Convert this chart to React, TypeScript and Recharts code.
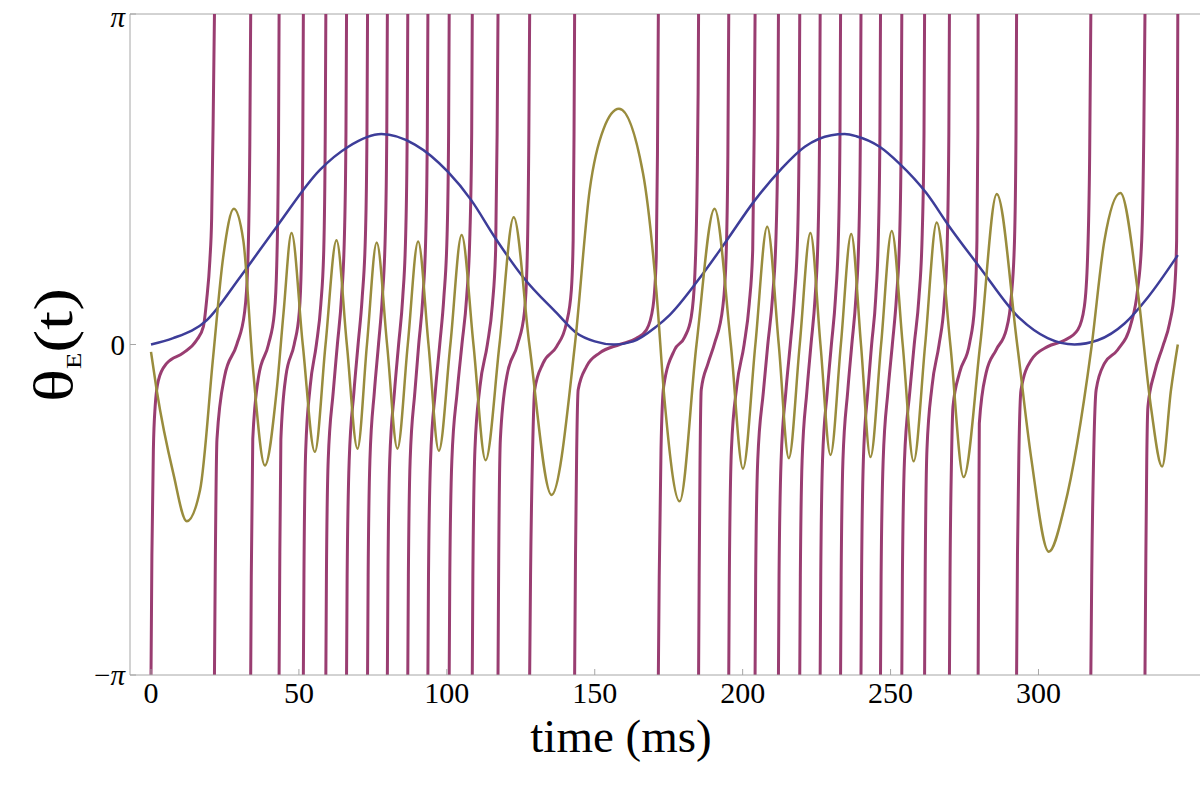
import React from 'react';
import { LineChart, Line, XAxis, YAxis, ReferenceLine, Label } from 'recharts';

const PI = Math.PI;

// axis ticks
const timeTicks = [0, 50, 100, 150, 200, 250, 300];
const phaseTicks = [-PI, 0, PI];
const phaseTickLabels = ['−π', '0', 'π'];

// slow drive (blue), [time ms, value]
const drive: [number, number][] = [
  [0, 0], [7.5, 0.06], [18.8, 0.23], [30.1, 0.64], [42.5, 1.12], [57.1, 1.66], [66.7, 1.88],
  [77.9, 2.0], [89.2, 1.9], [100.4, 1.64], [108.3, 1.37], [116.2, 1.02], [125.8, 0.64],
  [137.1, 0.3], [143.8, 0.11], [150, 0.03], [156.5, 0], [163, 0.03], [170.8, 0.17],
  [175.3, 0.28], [184.9, 0.61], [193.9, 0.96], [204.1, 1.37], [213.1, 1.67], [221, 1.88],
  [230, 1.99], [234.5, 2.0], [238.4, 1.98], [246.3, 1.88], [253, 1.72], [262.1, 1.44],
  [269.9, 1.12], [280, 0.74], [293.6, 0.25], [303.1, 0.06], [312.2, 0], [320, 0.04],
  [329.1, 0.2], [337, 0.45], [347.1, 0.85],
];

// oscillating trace (olive)
const oscillator: [number, number][] = [
  [0, -0.07], [1.9, -0.43], [7.5, -1.22], [12.1, -1.68], [16.6, -1.38], [21.0, -0.12],
  [24.4, 0.83], [28.0, 1.29], [31.2, 0.99], [34.6, -0.27], [38.5, -1.15], [42.5, -0.43],
  [44.8, 0.3], [47.5, 1.06], [51.3, 0], [55.4, -1.02], [59.0, 0], [62.7, 0.99], [66.2, 0],
  [69.8, -0.99], [73.0, 0], [76.3, 0.97], [79.8, 0], [83.3, -0.99], [86.8, 0], [90.3, 0.98],
  [93.8, 0], [97.3, -1.01], [101.2, 0], [105.0, 1.04], [109.0, 0], [113.1, -1.1], [117.8, 0],
  [122.6, 1.21], [127.9, 0], [135.4, -1.43], [143.3, 0], [148.3, 1.47], [153.0, 2.05],
  [158.2, 2.24], [166.3, 1.63], [170.8, 0.52], [173.6, -0.53], [178.7, -1.49], [184.4, 0],
  [190.5, 1.29], [196.0, 0], [200.1, -1.18], [204.3, 0], [208.3, 1.12], [212.2, 0],
  [215.6, -1.08], [219.3, 0], [222.9, 1.06], [226.3, 0], [229.7, -1.05], [233.2, 0],
  [236.7, 1.05], [240.0, 0], [243.2, -1.07], [246.8, 0], [250.4, 1.08], [254.1, 0],
  [257.8, -1.11], [261.7, 0], [265.6, 1.16], [270.2, 0], [274.7, -1.26], [280.3, 0],
  [285.9, 1.43], [292.8, 0], [297.5, -1.07], [303.5, -1.97], [308.8, -1.54], [317.8, -0.05],
  [322.3, 0.99], [327.7, 1.44], [333.5, 0.52], [338.0, -0.59], [341.8, -1.16], [344.8, -0.43],
  [347.1, 0],
];

// wrapped phase (purple), one run from -π to π between spikes
const phaseSegments: [number, number][][] = [
  [[0, -PI], [0.3, -2.0], [0.8, -1.0], [1.4, -0.59], [2.5, -0.34], [5.3, -0.18], [10.9, -0.08], [15.4, 0.04], [17.7, 0.17], [18.8, 0.42], [19.9, 0.8], [20.5, 1.2], [21.0, 2.1], [21.45, PI]],
  [[21.45, -PI], [21.7, -2.2], [22.3, -0.9], [24.9, -0.3], [29.0, 0], [31.6, 0.3], [32.7, 0.75], [33.4, 1.9], [33.7, PI]],
  [[33.7, -PI], [33.9, -2.2], [34.4, -0.9], [36.4, -0.3], [39.7, 0], [41.7, 0.3], [42.5, 0.75], [43.1, 1.9], [43.3, PI]],
  [[43.3, -PI], [43.5, -2.2], [43.9, -0.9], [45.6, -0.3], [48.4, 0], [50.1, 0.3], [50.8, 0.75], [51.3, 1.9], [51.5, PI]],
  [[51.5, -PI], [51.7, -2.2], [52.3, -1.0], [53.8, -0.4], [55.9, 0], [57.4, 0.38], [58.4, 0.9], [58.9, 2.0], [59.1, PI]],
  [[59.1, -PI], [59.3, -2.2], [59.9, -1.1], [61.6, -0.45], [63.0, 0], [64.4, 0.45], [65.4, 1.05], [65.9, 2.0], [66.1, PI]],
  [[66.1, -PI], [66.3, -2.2], [67.0, -1.1], [68.6, -0.45], [70.0, 0], [71.4, 0.45], [72.5, 1.05], [73.0, 2.0], [73.2, PI]],
  [[73.2, -PI], [73.4, -2.2], [74.0, -1.1], [75.5, -0.45], [76.9, 0], [78.2, 0.45], [79.2, 1.05], [79.7, 2.0], [79.9, PI]],
  [[79.9, -PI], [80.1, -2.2], [80.7, -1.1], [82.3, -0.45], [83.7, 0], [85.1, 0.45], [86.1, 1.05], [86.6, 2.0], [86.8, PI]],
  [[86.8, -PI], [87.0, -2.2], [87.6, -1.1], [89.2, -0.45], [90.5, 0], [91.9, 0.45], [92.9, 1.05], [93.4, 2.0], [93.6, PI]],
  [[93.6, -PI], [93.8, -2.2], [94.5, -1.1], [96.1, -0.45], [97.6, 0], [99.0, 0.45], [100.1, 1.05], [100.6, 2.0], [100.8, PI]],
  [[100.8, -PI], [101.0, -2.2], [101.7, -1.1], [103.5, -0.45], [105.1, 0], [106.7, 0.45], [107.8, 1.05], [108.4, 2.0], [108.6, PI]],
  [[108.6, -PI], [108.8, -2.2], [109.5, -1.0], [111.2, -0.4], [113.7, 0], [115.4, 0.38], [116.5, 0.9], [117.0, 2.0], [117.3, PI]],
  [[117.3, -PI], [117.5, -2.2], [118.1, -0.9], [120.3, -0.3], [123.9, 0], [126.2, 0.3], [127.1, 0.75], [127.7, 1.9], [128.0, PI]],
  [[128.0, -PI], [128.3, -2.2], [129.0, -1.0], [129.7, -0.43], [132.5, -0.18], [137.1, -0.02], [140.4, 0.2], [142.1, 0.52], [142.7, 0.99], [143.0, 2.0], [143.2, PI]],
  [[143.2, -PI], [143.5, -2.0], [143.9, -1.0], [144.4, -0.43], [147.2, -0.21], [151.7, -0.08], [158.4, 0], [164.1, 0.06], [167.5, 0.14], [169.7, 0.36], [170.8, 0.83], [171.2, 1.8], [171.5, PI]],
  [[171.5, -PI], [171.8, -2.2], [172.4, -1.0], [173.3, -0.4], [177.0, -0.05], [180.4, 0.07], [182.6, 0.26], [183.8, 0.64], [184.6, 1.5], [184.95, 2.4], [185.1, PI]],
  [[185.1, -PI], [185.3, -2.2], [185.6, -1.1], [186.0, -0.43], [188.3, -0.18], [190.5, 0.01], [193.3, 0.36], [194.4, 0.83], [195.0, 1.8], [195.3, PI]],
  [[195.3, -PI], [195.5, -2.2], [196.2, -1.0], [198.0, -0.4], [200.5, 0], [202.2, 0.38], [203.4, 0.9], [203.9, 2.0], [204.2, PI]],
  [[204.2, -PI], [204.4, -2.2], [205.1, -1.1], [207.0, -0.45], [208.5, 0], [210.1, 0.45], [211.3, 1.05], [211.9, 2.0], [212.1, PI]],
  [[212.1, -PI], [212.3, -2.2], [213.0, -1.1], [214.6, -0.45], [216.1, 0], [217.5, 0.45], [218.6, 1.05], [219.1, 2.0], [219.3, PI]],
  [[219.3, -PI], [219.5, -2.2], [220.1, -1.1], [221.7, -0.45], [223.1, 0], [224.5, 0.45], [225.5, 1.05], [226.0, 2.0], [226.2, PI]],
  [[226.2, -PI], [226.4, -2.2], [227.0, -1.1], [228.6, -0.45], [230.0, 0], [231.4, 0.45], [232.4, 1.05], [232.9, 2.0], [233.1, PI]],
  [[233.1, -PI], [233.3, -2.2], [233.9, -1.1], [235.5, -0.45], [236.9, 0], [238.3, 0.45], [239.3, 1.05], [239.8, 2.0], [240.0, PI]],
  [[240.0, -PI], [240.2, -2.2], [240.8, -1.1], [242.3, -0.45], [243.6, 0], [245.0, 0.45], [245.9, 1.05], [246.4, 2.0], [246.6, PI]],
  [[246.6, -PI], [246.8, -2.2], [247.5, -1.1], [249.1, -0.45], [250.6, 0], [252.0, 0.45], [253.1, 1.05], [253.6, 2.0], [253.8, PI]],
  [[253.8, -PI], [254.0, -2.2], [254.7, -1.1], [256.5, -0.45], [258.0, 0], [259.6, 0.45], [260.7, 1.05], [261.3, 2.0], [261.5, PI]],
  [[261.5, -PI], [261.7, -2.2], [262.3, -1.0], [264.0, -0.4], [266.4, 0], [268.1, 0.38], [269.1, 0.9], [269.7, 2.0], [269.9, PI]],
  [[269.9, -PI], [270.1, -2.2], [270.6, -1.1], [271.1, -0.59], [273.3, -0.27], [276.7, 0.01], [278.4, 0.36], [279.2, 0.99], [279.5, 2.0], [279.6, PI]],
  [[279.6, -PI], [279.8, -1.9], [280.0, -0.75], [282.3, -0.27], [285.7, -0.05], [289.1, 0.14], [290.8, 0.45], [291.9, 0.99], [292.4, 2.0], [292.6, PI]],
  [[292.6, -PI], [292.9, -2.0], [293.4, -1.0], [294.1, -0.43], [297.5, -0.15], [303.1, -0.02], [308.8, 0.04], [313.3, 0.14], [315.5, 0.36], [316.6, 0.83], [317.3, 1.8], [317.7, PI]],
  [[317.7, -PI], [318.0, -2.2], [318.7, -1.0], [319.5, -0.43], [322.3, -0.18], [326.8, -0.05], [331.3, 0.2], [333.5, 0.52], [334.9, 0.99], [335.6, 2.0], [336.0, PI]],
  [[336.0, -PI], [336.3, -2.0], [336.6, -1.1], [337.0, -0.59], [339.2, -0.27], [342.0, -0.02], [344.3, 0.2], [346.0, 0.52], [346.7, 0.99], [346.95, 2.0], [347.1, PI]],
];

const FRAME = '#a6a6a6';
const SERIF = '"Liberation Serif", "Times New Roman", serif';

const toRows = (pts: [number, number][]) => pts.map(([t, v]) => ({ t, v }));
const driveRows = toRows(drive);
const oscRows = toRows(oscillator);
// null rows break the line at every wrap from π back to −π
const phaseRows = phaseSegments.flatMap((seg, i) =>
  i === 0 ? toRows(seg) : [{ t: seg[0][0], v: null as number | null }, ...toRows(seg)]
);

const X_OFF = 7; // tickSize + tickMargin on the time axis
const Y_OFF = 5;

const TimeTick = (props: any) => {
  const { x, y, payload } = props;
  const axisY = y - X_OFF;
  return (
    <g>
      <line x1={x} x2={x} y1={axisY} y2={axisY - 6} stroke={FRAME} />
      <text x={x} y={y} dy="0.71em" textAnchor="middle" fontSize={30} fontFamily={SERIF} fill="#000">
        {payload.value}
      </text>
    </g>
  );
};

const PhaseTick = (props: any) => {
  const { x, y, payload } = props;
  const idx = phaseTicks.findIndex((v) => Math.abs(v - payload.value) < 1e-6);
  const label = phaseTickLabels[idx] ?? '';
  const axisX = x + Y_OFF;
  // the top label sits a little lower so it stays inside the picture
  const dy = idx === phaseTicks.length - 1 ? '0.45em' : '0.355em';
  return (
    <g>
      <line x1={axisX} x2={axisX + 6} y1={y} y2={y} stroke={FRAME} />
      <text x={x} y={y} dy={dy} textAnchor="end" fontSize={29} fontFamily={SERIF} fill="#000">
        {label.split('').map((ch, i) =>
          ch === 'π' ? (
            <tspan key={i} fontStyle="italic">{ch}</tspan>
          ) : (
            <tspan key={i}>{ch}</tspan>
          )
        )}
      </text>
    </g>
  );
};

const TimeTitle = () => (
  <text x={621} y={752} textAnchor="middle" fontSize={47} fontFamily={SERIF} fill="#000">
    time (ms)
  </text>
);

const PhaseTitle = () => (
  <text
    x={72}
    y={345}
    transform="rotate(-90 72 345)"
    textAnchor="middle"
    fontSize={54}
    fontFamily={SERIF}
    fill="#000"
    textLength={114}
    lengthAdjust="spacingAndGlyphs"
  >
    θ
    <tspan fontSize={21} dy={9}>E</tspan>
    <tspan dy={-9}>(t)</tspan>
  </text>
);

export default function App() {
  return (
    <div style={{ width: 1200, height: 786, background: '#fff', overflow: 'hidden' }}>
      <style>{'body{margin:0;background:#fff;}'}</style>
      <LineChart width={1200} height={786} margin={{ top: 14, right: 0, bottom: 81, left: 70 }}>
        <XAxis
          dataKey="t"
          type="number"
          domain={[-7.1, 354.6]}
          allowDataOverflow
          ticks={timeTicks}
          tick={<TimeTick />}
          tickLine={false}
          tickSize={0}
          tickMargin={X_OFF}
          height={30}
          axisLine={{ stroke: FRAME }}
        >
          <Label content={<TimeTitle />} />
        </XAxis>
        <YAxis
          type="number"
          domain={[-PI, PI]}
          allowDataOverflow
          ticks={phaseTicks}
          tick={<PhaseTick />}
          tickLine={false}
          tickSize={0}
          tickMargin={Y_OFF}
          width={60}
          axisLine={{ stroke: FRAME }}
        >
          <Label content={<PhaseTitle />} />
        </YAxis>
        <ReferenceLine y={PI} stroke={FRAME} />
        <Line
          data={phaseRows}
          dataKey="v"
          type="monotone"
          stroke="#993d71"
          strokeWidth={3}
          dot={false}
          activeDot={false}
          connectNulls={false}
          isAnimationActive={false}
        />
        <Line
          data={driveRows}
          dataKey="v"
          type="monotone"
          stroke="#3d3d99"
          strokeWidth={2.5}
          dot={false}
          activeDot={false}
          isAnimationActive={false}
        />
        <Line
          data={oscRows}
          dataKey="v"
          type="monotone"
          stroke="#998c3d"
          strokeWidth={2.5}
          dot={false}
          activeDot={false}
          isAnimationActive={false}
        />
      </LineChart>
    </div>
  );
}
